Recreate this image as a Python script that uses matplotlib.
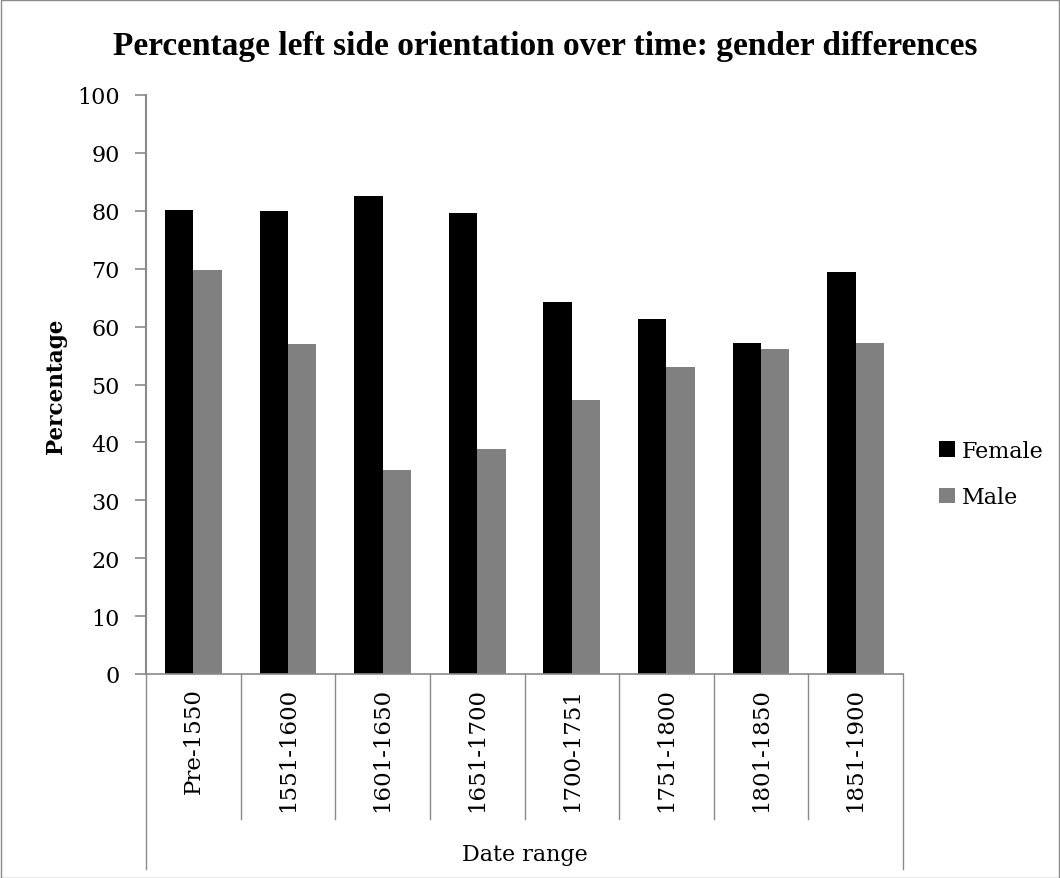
import matplotlib
matplotlib.use("Agg")
import matplotlib.pyplot as plt
import matplotlib.transforms as mtransforms
from matplotlib.patches import Rectangle, Patch
import numpy as np

categories = ["Pre-1550", "1551-1600", "1601-1650", "1651-1700",
              "1700-1751", "1751-1800", "1801-1850", "1851-1900"]
female = [80.1, 80.0, 82.6, 79.7, 64.2, 61.3, 57.2, 69.5]
male = [69.8, 57.0, 35.3, 38.9, 47.3, 53.0, 56.2, 57.2]
yticks = [0, 10, 20, 30, 40, 50, 60, 70, 80, 90, 100]

W, H = 1060, 879
fig = plt.figure(figsize=(W / 100, H / 100), dpi=100)
fig.patch.set_facecolor("white")
fig.add_artist(Rectangle((0.5 / W, 0.5 / H), 1 - 1.5 / W, 1 - 1.5 / H,
                         transform=fig.transFigure, fill=False,
                         edgecolor="#8a8a8a", linewidth=1))

ax = fig.add_axes([146 / W, 1 - 675 / H, (903 - 146) / W, (675 - 96) / H])
x = np.arange(len(categories))
bw = 0.3
ax.bar(x - bw / 2, female, width=bw, color="black", label="Female")
ax.bar(x + bw / 2, male, width=bw, color="#808080", label="Male")

ax.set_xlim(-0.5, len(categories) - 0.5)
ax.set_ylim(0, 100)
ax.set_yticks(yticks)
ax.set_yticklabels([str(t) for t in yticks], family="DejaVu Serif", fontsize=16)
ax.tick_params(axis="y", direction="out", length=8, width=1.2, color="#8a8a8a", pad=11)
ax.set_xticks([])

for s in ["top", "right"]:
    ax.spines[s].set_visible(False)
ax.spines["left"].set_color("#8a8a8a")
ax.spines["left"].set_linewidth(1.5)
ax.spines["bottom"].set_color("#8a8a8a")
ax.spines["bottom"].set_linewidth(1.2)

trans = mtransforms.blended_transform_factory(ax.transData, ax.transAxes)
sep_bottom = -145 / 579
outer_bottom = -195 / 579
for i in range(1, len(categories)):
    ax.plot([i - 0.5, i - 0.5], [0, sep_bottom], transform=trans,
            color="#8a8a8a", lw=1, clip_on=False)
for xb in [-0.5, len(categories) - 0.5]:
    ax.plot([xb, xb], [0, outer_bottom], transform=trans,
            color="#8a8a8a", lw=1, clip_on=False)
for i, c in enumerate(categories):
    ax.text(i, -0.022, c, transform=trans, rotation=90, ha="center", va="top",
            family="DejaVu Serif", fontsize=16.5)

ax.text(0.5, -(855 - 675) / 579, "Date range", transform=ax.transAxes,
        ha="center", va="center", family="DejaVu Serif", fontsize=16)

fig.text(56 / W, 1 - 386 / H, "Percentage", rotation=90, ha="center", va="center",
         family="DejaVu Serif", fontweight="bold", fontsize=15.5)

fig.text(545 / W, 1 - 47 / H,
         "Percentage left side orientation over time: gender differences",
         ha="center", va="center", family="Liberation Serif",
         fontweight="bold", fontsize=24)

handles = [Patch(facecolor="black"), Patch(facecolor="#808080")]
leg = ax.legend(handles, ["Female", "Male"], loc="center left",
                bbox_to_anchor=((939 - 146) / 757, (675 - 475) / 579),
                frameon=False, handlelength=0.72, handleheight=0.7,
                handletextpad=0.32, labelspacing=1.1, borderpad=0,
                borderaxespad=0,
                prop={"family": "DejaVu Serif", "size": 16})

fig.savefig("out.png", dpi=100, facecolor="white")
